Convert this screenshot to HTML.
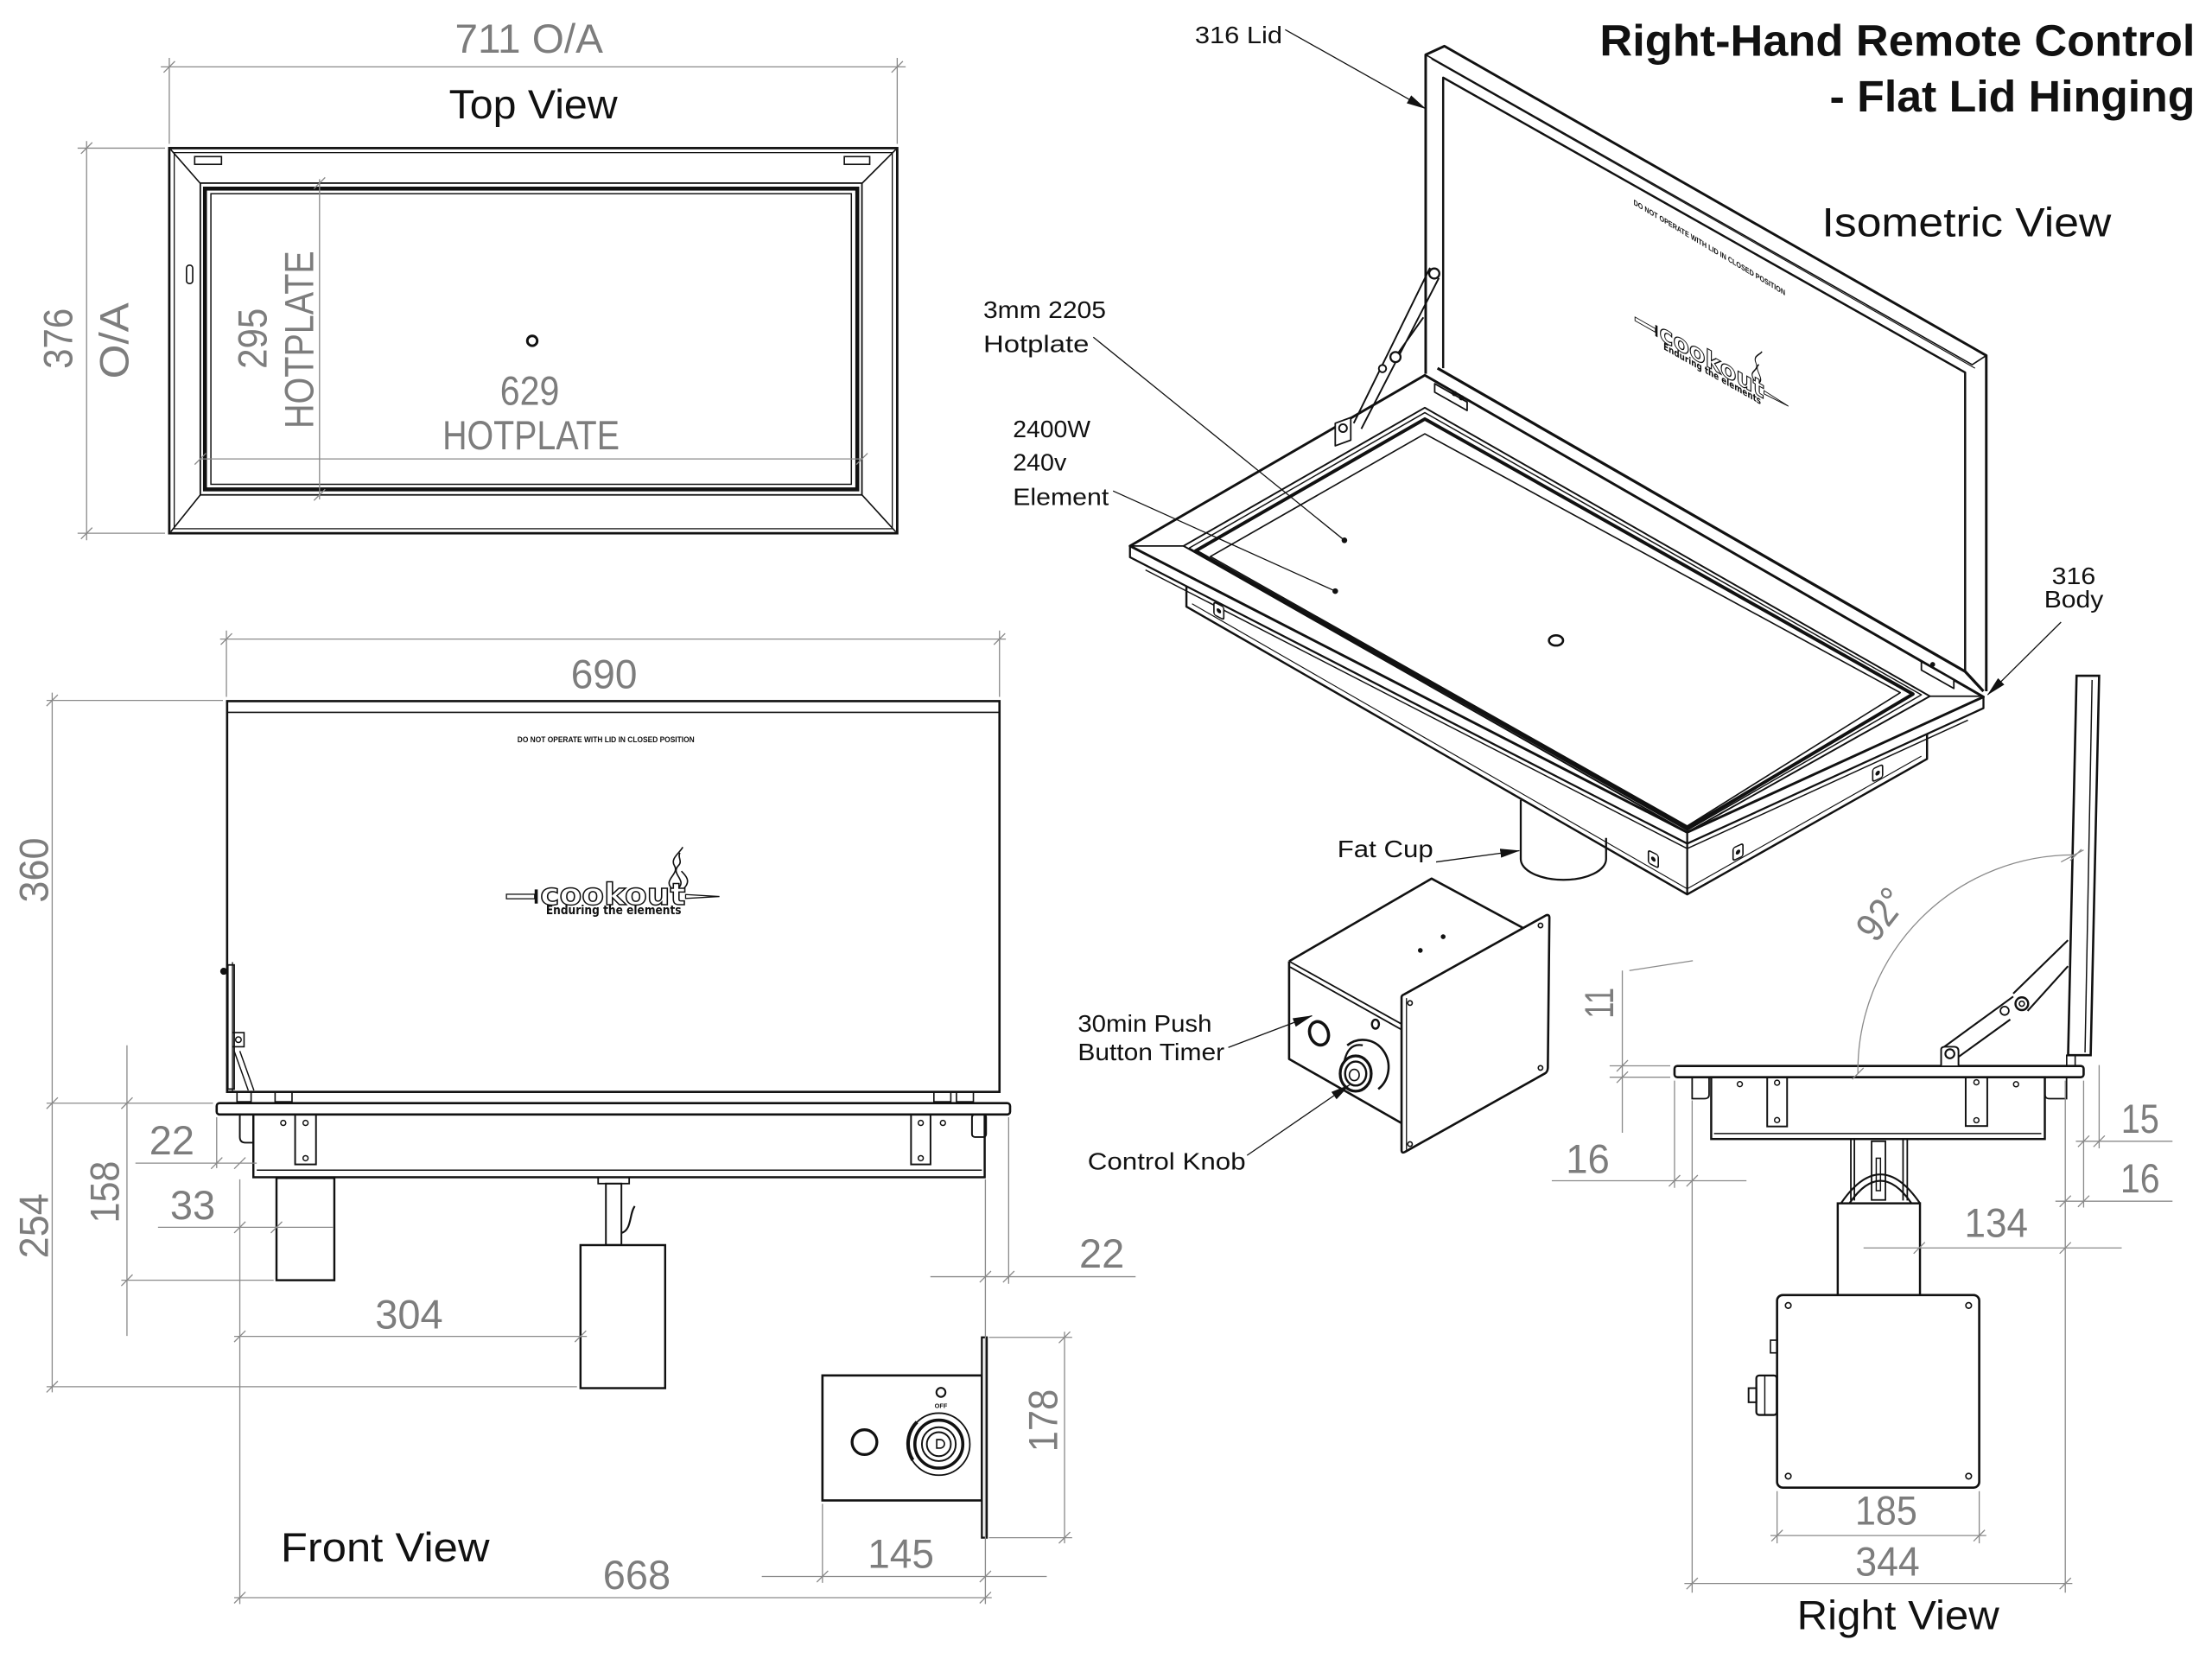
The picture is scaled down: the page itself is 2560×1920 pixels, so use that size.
<!DOCTYPE html>
<html><head><meta charset="utf-8"><title>Cookout Right-Hand Remote Control drawing</title>
<style>
html,body{margin:0;padding:0;background:#fff;overflow:hidden}
svg{display:block}
.d{font-family:"Liberation Sans",sans-serif;font-size:29px;fill:#7d7d7d;text-anchor:middle}
.v{font-family:"Liberation Sans",sans-serif;font-size:29px;fill:#111;text-anchor:middle}
.l{font-family:"Liberation Sans",sans-serif;font-size:17px;fill:#111}
</style></head><body>
<svg xmlns="http://www.w3.org/2000/svg" width="2560" height="1920" viewBox="0 0 1568 1176">
<defs>
<marker id="ar" markerWidth="14" markerHeight="8" refX="13.5" refY="4" orient="auto" markerUnits="userSpaceOnUse"><path d="M0,0.8 L14,4 L0,7.2 Z" fill="#111"/></marker>
</defs>
<rect width="1568" height="1176" fill="#fff"/>

<!-- ================= TOP VIEW ================= -->
<g fill="none" stroke="#111">
<rect x="120" y="105" width="516" height="273" stroke-width="1.7"/>
<rect x="123.5" y="108.2" width="509" height="266.6" stroke-width="0.8"/>
<rect x="142" y="129.8" width="469" height="221" stroke-width="1.1"/>
<rect x="145.3" y="133.7" width="462.4" height="213.2" stroke-width="2.8"/>
<rect x="149.5" y="137.3" width="454" height="206" stroke-width="0.9"/>
<path d="M121,106 L142,130 M635,106 L611,130 M121,377 L142,350.8 M635,377 L611,350.8" stroke-width="1"/>
<rect x="138" y="111" width="19" height="5.5" stroke-width="1"/>
<rect x="598.5" y="111" width="18" height="5.5" stroke-width="1"/>
<rect x="132.2" y="188" width="4.4" height="13" rx="2" stroke-width="1"/>
<circle cx="377.3" cy="241.6" r="3.5" stroke-width="1.8"/>
</g>
<g stroke="#8a8a8a" stroke-width="0.8" fill="none">
<path d="M114,47.4 H642 M120,41 V102 M636,41 V102 M116,51.4 L124,43.4 M632,51.4 L640,43.4"/>
<path d="M61.4,100 V383 M55,105 H117 M55,378 H117 M57.4,109 L65.4,101 M57.4,382 L65.4,374"/>
<path d="M226.5,127 V354 M222.5,133.8 L230.5,125.8 M222.5,354.8 L230.5,346.8"/>
<path d="M142,325.3 H611 M138,329.3 L146,321.3 M607,329.3 L615,321.3"/>
</g>
<text class="d" x="375" y="37.5" textLength="105" lengthAdjust="spacingAndGlyphs">711 O/A</text>
<text class="v" x="378" y="84" textLength="119.5" lengthAdjust="spacingAndGlyphs">Top View</text>
<text class="d" transform="translate(40.5,240) rotate(-90)" y="10.5" textLength="43" lengthAdjust="spacingAndGlyphs">376</text>
<text class="d" transform="translate(80.6,241.5) rotate(-90)" y="10.5" textLength="54" lengthAdjust="spacingAndGlyphs">O/A</text>
<text class="d" transform="translate(178.3,240) rotate(-90)" y="10.5" textLength="43" lengthAdjust="spacingAndGlyphs">295</text>
<text class="d" transform="translate(211.6,240.8) rotate(-90)" y="10.5" textLength="126" lengthAdjust="spacingAndGlyphs">HOTPLATE</text>
<text class="d" x="375.5" y="287" textLength="42" lengthAdjust="spacingAndGlyphs">629</text>
<text class="d" x="376.4" y="318.5" textLength="125.5" lengthAdjust="spacingAndGlyphs">HOTPLATE</text>

<!-- ================= FRONT VIEW ================= -->
<g fill="none" stroke="#111">
<rect x="161" y="497" width="547.5" height="277" stroke-width="1.6"/>
<path d="M161,505 H708.5" stroke-width="1"/>
<path d="M164.8,682 V774" stroke-width="0.8"/>
<rect x="161.5" y="684" width="4.5" height="88" stroke-width="1.1"/>
<circle cx="158.6" cy="688.5" r="2" fill="#111"/>
<path d="M165,732 h8 v10 h-8" stroke-width="1"/>
<circle cx="169" cy="737" r="2" stroke-width="0.9"/>
<path d="M166,745 L176,773 M170,745 L180,773" stroke-width="0.9"/>
<rect x="168" y="774" width="10" height="7" stroke-width="1"/>
<rect x="195" y="774" width="12" height="7" stroke-width="1"/>
<rect x="662" y="774" width="12" height="7" stroke-width="1"/>
<rect x="678" y="774" width="12" height="7" stroke-width="1"/>
<rect x="153.6" y="782" width="562.4" height="8" rx="2" stroke-width="1.6"/>
<rect x="179.6" y="790" width="518.4" height="44.5" stroke-width="1.5"/>
<path d="M182,829.5 H696" stroke-width="0.9"/>
<path d="M170,790 V806 Q170,810 174,810 H179.6" stroke-width="1.2"/>
<rect x="689" y="790" width="10" height="16" rx="2" stroke-width="1.2"/>
<rect x="209.2" y="790" width="14.8" height="35.4" stroke-width="1.2"/>
<rect x="645.8" y="790" width="13.8" height="35.4" stroke-width="1.2"/>
<g stroke-width="0.9"><circle cx="216.6" cy="796" r="1.8"/><circle cx="216.6" cy="821" r="1.8"/><circle cx="200.8" cy="796" r="1.8"/>
<circle cx="652.7" cy="796" r="1.8"/><circle cx="652.7" cy="821" r="1.8"/><circle cx="668.4" cy="796" r="1.8"/></g>
<rect x="196" y="835" width="41" height="72.5" stroke-width="1.5"/>
<rect x="424" y="834.5" width="22" height="4.5" stroke-width="1.1"/>
<rect x="429.5" y="839" width="11" height="43.5" stroke-width="1.2"/>
<path d="M440.5,874 C448,872 446,860 450,855" stroke-width="1.3"/>
<rect x="411.5" y="882.6" width="60" height="101.4" stroke-width="1.5"/>
<!-- front control box -->
<rect x="583" y="975" width="113" height="88.6" stroke-width="1.6"/>
<rect x="696" y="948" width="3.5" height="142" stroke-width="1.4" fill="#fff"/>
<circle cx="612.8" cy="1022.3" r="8.8" stroke-width="2"/>
<circle cx="665.5" cy="1023.7" r="22" stroke-width="1.1"/>
<path d="M647,1035 A22,22 0 0 1 650,1008" stroke-width="2.5"/>
<circle cx="665.5" cy="1023.7" r="17" stroke-width="2.2"/>
<circle cx="665.5" cy="1023.7" r="12" stroke-width="1.2"/>
<circle cx="665.5" cy="1023.7" r="8.5" stroke-width="1.2"/>
<path d="M664,1020.5 h2.5 a3,3 0 0 1 0,6 h-2.5 z" stroke-width="1"/>
<circle cx="667" cy="987" r="3.2" stroke-width="1.3"/>
</g>
<text x="667" y="998" font-family="Liberation Sans,sans-serif" font-size="4.5" font-weight="bold" text-anchor="middle" fill="#111">OFF</text>
<text x="429.5" y="526" font-family="Liberation Sans,sans-serif" font-size="5.5" font-weight="bold" text-anchor="middle" fill="#111" textLength="125.5" lengthAdjust="spacingAndGlyphs">DO NOT OPERATE WITH LID IN CLOSED POSITION</text>
<!-- front logo -->
<g transform="translate(359,635.5)">
<rect x="0" y="-1.6" width="20" height="3.2" fill="#fff" stroke="#111" stroke-width="0.8"/>
<rect x="20" y="-5" width="2.2" height="10" fill="#111"/>
<text x="24" y="5.8" font-family="DejaVu Sans,sans-serif" font-weight="bold" font-size="21" fill="#fff" stroke="#111" stroke-width="0.9" textLength="103" lengthAdjust="spacingAndGlyphs">cookout</text>
<path d="M127,-1.4 L151,0 L127,1.4 Z" fill="#fff" stroke="#111" stroke-width="0.8"/>
<path d="M117,-6 C111,-12 123,-16 119,-22 C116,-27 123,-31 125,-35 M122,-6 C128,-12 116,-16 122,-22 C125,-25 121,-28 123,-31 M126,-6 C131,-11 127,-15 124,-18" fill="none" stroke="#111" stroke-width="1"/>
<text x="28" y="12.5" font-family="DejaVu Sans,sans-serif" font-weight="bold" font-size="8.5" fill="#111" textLength="96" lengthAdjust="spacingAndGlyphs">Enduring the elements</text>
</g>
<!-- front dims -->
<g stroke="#8a8a8a" stroke-width="0.8" fill="none">
<path d="M156,453 H713 M160.5,447 V494 M708.5,447 V494 M156.5,457 L164.5,449 M704.5,457 L712.5,449"/>
<path d="M37,491 V987 M33,500.5 L41,492.5 M33,786 L41,778 M33,987 L41,979"/>
<path d="M33,496.5 H158 M33,782 H151 M33,983 H409"/>
<path d="M90,741 V947 M86,786 L94,778 M86,911.5 L94,903.5 M86,907.5 H194"/>
<path d="M96,824.5 H182 M153.6,792 V828 M149.6,828.5 L157.6,820.5 M166,828.5 L174,820.5"/>
<path d="M112,870 H236 M166,874 L174,866 M192,874 L200,866"/>
<path d="M170,836 V1137 M698.5,836 V1137 M715,792 V910"/>
<path d="M166,947.3 H416 M166,951.3 L174,943.3 M407.5,951.3 L415.5,943.3"/>
<path d="M166,1132.5 H703 M166,1136.5 L174,1128.5 M694.5,1136.5 L702.5,1128.5"/>
<path d="M659.5,905 H805 M694.5,909 L702.5,901 M711,909 L719,901"/>
<path d="M754.6,944 V1094 M750.6,952 L758.6,944 M750.6,1094 L758.6,1086 M701,948 H760 M701,1090 H760"/>
<path d="M540,1117.5 H742 M579,1121.5 L587,1113.5 M694.5,1121.5 L702.5,1113.5 M583,1066 V1122"/>
</g>
<text class="d" x="428.2" y="487.9" textLength="47" lengthAdjust="spacingAndGlyphs">690</text>
<text class="d" transform="translate(23.4,616.8) rotate(-90)" y="10.5" textLength="46" lengthAdjust="spacingAndGlyphs">360</text>
<text class="d" transform="translate(23.4,869) rotate(-90)" y="10.5" textLength="46" lengthAdjust="spacingAndGlyphs">254</text>
<text class="d" transform="translate(73.8,845) rotate(-90)" y="10.5" textLength="44" lengthAdjust="spacingAndGlyphs">158</text>
<text class="d" x="121.8" y="818.4" textLength="32" lengthAdjust="spacingAndGlyphs">22</text>
<text class="d" x="136.6" y="864.3" textLength="32" lengthAdjust="spacingAndGlyphs">33</text>
<text class="d" x="290" y="941.7" textLength="48" lengthAdjust="spacingAndGlyphs">304</text>
<text class="d" x="451.4" y="1126.4" textLength="48" lengthAdjust="spacingAndGlyphs">668</text>
<text class="v" x="273" y="1106.7" textLength="148" lengthAdjust="spacingAndGlyphs">Front View</text>
<text class="d" x="638.6" y="1111.4" textLength="47" lengthAdjust="spacingAndGlyphs">145</text>
<text class="d" transform="translate(739,1007) rotate(-90)" y="10.5" textLength="44.5" lengthAdjust="spacingAndGlyphs">178</text>
<text class="d" x="781" y="898.5" textLength="32" lengthAdjust="spacingAndGlyphs">22</text>

<!-- ================= RIGHT VIEW ================= -->
<g fill="none" stroke="#111">
<polygon points="1472,479 1488,479 1482,748 1466,748" stroke-width="1.6" fill="#fff"/>
<path d="M1483,482 L1478,746" stroke-width="0.9"/>
<rect x="1465" y="748" width="6" height="7.5" stroke-width="1"/>
<rect x="1187" y="755.6" width="290" height="8" rx="2" stroke-width="1.6" fill="#fff"/>
<rect x="1213" y="763.6" width="236.5" height="43.8" stroke-width="1.5"/>
<path d="M1215,803.5 H1447" stroke-width="0.9"/>
<path d="M1211.5,764 V776 Q1211.5,778.8 1208,778.8 H1199.5 V764" stroke-width="1.1"/>
<path d="M1449.6,764 V776 Q1449.6,778.8 1453,778.8 H1464.9 V764" stroke-width="1.1"/>
<rect x="1252.7" y="763.6" width="14.1" height="34.9" stroke-width="1.2"/>
<rect x="1393.4" y="763.6" width="15.3" height="34.6" stroke-width="1.2"/>
<g stroke-width="0.9"><circle cx="1259.7" cy="767.5" r="1.8"/><circle cx="1259.7" cy="794" r="1.8"/><circle cx="1401" cy="767.2" r="1.8"/><circle cx="1401" cy="794.1" r="1.8"/><circle cx="1233.3" cy="768.5" r="1.8"/><circle cx="1429.1" cy="768.6" r="1.8"/></g>
<!-- hinge arm -->
<path d="M1465.9,666.5 L1427.1,704.3 M1465.9,684.9 L1437.3,716.6 M1427.1,706.4 L1378.1,742.1 M1425,722.7 L1388.3,749.2" stroke-width="1.3"/>
<circle cx="1433.2" cy="711.5" r="4.5" stroke-width="1.5" fill="#fff"/>
<circle cx="1433.2" cy="711.5" r="1.8" stroke-width="1"/>
<circle cx="1421" cy="716.5" r="3" stroke-width="1.1" fill="#fff"/>
<path d="M1376,755.3 V744 Q1376,742 1379,742 H1385 Q1388.3,742 1388.3,745 V755.3" stroke-width="1.2" fill="#fff"/>
<circle cx="1382.2" cy="747" r="3.2" stroke-width="1.3"/>
<!-- pole -->
<path d="M1312,807.6 V851 M1314.5,807.6 V851 M1349,807.6 V851 M1352,807.6 V851" stroke-width="1.1"/>
<rect x="1326.7" y="809" width="9.8" height="41.6" stroke-width="1.1"/>
<rect x="1330" y="821" width="3" height="23" stroke-width="0.9"/>
<path d="M1305,853 Q1333,812 1361,853 M1311,853 Q1333,821 1355,853" stroke-width="1.3"/>
<rect x="1302.7" y="853" width="58.3" height="65" stroke-width="1.5" fill="#fff"/>
<!-- control box -->
<rect x="1259.7" y="918" width="143.3" height="136.5" rx="4" stroke-width="1.6"/>
<g stroke-width="1"><circle cx="1267.6" cy="925.4" r="2"/><circle cx="1395.5" cy="925.4" r="2"/><circle cx="1267.6" cy="1046.4" r="2"/><circle cx="1395.5" cy="1046.4" r="2"/></g>
<rect x="1255" y="950" width="4.5" height="9" stroke-width="1"/>
<rect x="1245" y="975" width="14.5" height="28" rx="2" stroke-width="1.4"/>
<rect x="1239.5" y="984" width="5.5" height="10" stroke-width="1.2"/>
<path d="M1251,975 V1003" stroke-width="0.9"/>
</g>
<g stroke="#8a8a8a" stroke-width="0.8" fill="none">
<path d="M1317,761 A153,153 0 0 1 1471.5,606 M1313,765 L1321,757 M1467.5,610 L1475.5,602 M1461,611 L1477,602.5"/>
<path d="M1150,688 V803 M1146,759.5 L1154,751.5 M1146,767.6 L1154,759.6 M1141,755.5 H1184 M1141,763.6 H1184 M1155,688 L1200,681"/>
<path d="M1100,837 H1238 M1183,841 L1191,833 M1195.5,841 L1203.5,833 M1187,766 V842 M1199.5,780 V1129"/>
<path d="M1471.5,809 H1540 M1473,813 L1481,805 M1484,813 L1492,805 M1488,755 V814 M1477,766 V856"/>
<path d="M1457,851.5 H1540 M1460,855.5 L1468,847.5 M1473,855.5 L1481,847.5 M1464,766 V1129"/>
<path d="M1321,884.6 H1504 M1356.5,888.6 L1364.5,880.6 M1460,888.6 L1468,880.6"/>
<path d="M1255,1088.5 H1408 M1255.7,1092.5 L1263.7,1084.5 M1399,1092.5 L1407,1084.5 M1259.7,1057 V1094 M1403,1057 V1094"/>
<path d="M1194,1122.5 H1469 M1195.5,1126.5 L1203.5,1118.5 M1460,1126.5 L1468,1118.5"/>
</g>
<text class="d" transform="translate(1133,711) rotate(-90)" y="10.5" textLength="22" lengthAdjust="spacingAndGlyphs">11</text>
<text class="d" x="1125.5" y="831.5" textLength="31" lengthAdjust="spacingAndGlyphs">16</text>
<text class="d" x="1517" y="803" textLength="27" lengthAdjust="spacingAndGlyphs">15</text>
<text class="d" x="1517" y="845.2" textLength="28" lengthAdjust="spacingAndGlyphs">16</text>
<text class="d" x="1415" y="876.9" textLength="45" lengthAdjust="spacingAndGlyphs">134</text>
<text class="d" x="1337" y="1080.8" textLength="44" lengthAdjust="spacingAndGlyphs">185</text>
<text class="d" x="1338" y="1117" textLength="45.6" lengthAdjust="spacingAndGlyphs">344</text>
<text class="d" transform="translate(1333.5,648) rotate(-52)" y="10" textLength="38" lengthAdjust="spacingAndGlyphs">92°</text>
<text class="v" x="1345.5" y="1155" textLength="143.4" lengthAdjust="spacingAndGlyphs">Right View</text>

<!-- ================= ISOMETRIC VIEW ================= -->
<g fill="none" stroke="#111" stroke-linejoin="round">
<!-- lid -->
<path d="M1010.6,265 V38.8 L1023.9,32.7 L1408,252 V490" stroke-width="1.8"/>
<path d="M1010.6,38.8 L1398,258.5 L1408,252" stroke-width="1"/>
<path d="M1014.7,41.8 L1400,261" stroke-width="0.7"/>
<path d="M1023,261 V55 L1393,264 V476" stroke-width="1.5"/>
<path d="M1019,261 L1393,476 L1406,490" stroke-width="2"/>
<!-- body top flange -->
<path d="M801,387 L1010,266 L1406,494 L1196,590 Z" stroke-width="1.8"/>
<path d="M801,387 H839 M1368,493.5 H1406" stroke-width="1.1"/>
<path d="M839,387 L1010,289 L1368,493.5 L1196,590 Z" stroke-width="1.2"/>
<path d="M843,388.5 L1010,292.5 L1362,492.5 L1196,588.5 Z" stroke-width="0.9"/>
<path d="M847.5,390.5 L1010,297 L1356,492 L1196,587 Z" stroke-width="2.4"/>
<path d="M858,394.5 L1010,307.5 L1347,491 L1196,585.5 Z" stroke-width="1"/>
<!-- flange faces & body -->
<path d="M801,387 V395 L1196,598 L1406,502 V494" stroke-width="1.4"/>
<path d="M812,404 L1196,601.5 L1395,510.5" stroke-width="0.9"/>
<path d="M1196,590 V634" stroke-width="1.4"/>
<path d="M841,415.5 V430 L1196,634 L1366,538 V520.5" stroke-width="1.5"/>
<path d="M845,428 L1196,630 L1362,536" stroke-width="0.7"/>
<!-- body tabs -->
<g stroke-width="1" fill="#fff">
<g transform="matrix(1,0.514,0,1,864,433)"><rect x="-3.5" y="-4.5" width="7" height="9" rx="1.5"/><circle r="1.1" fill="#111"/></g>
<g transform="matrix(1,0.514,0,1,1172,609)"><rect x="-3.5" y="-4.5" width="7" height="9" rx="1.5"/><circle r="1.1" fill="#111"/></g>
<g transform="matrix(1,-0.457,0,1,1232,604)"><rect x="-3.5" y="-4.5" width="7" height="9" rx="1.5"/><circle r="1.1" fill="#111"/></g>
<g transform="matrix(1,-0.457,0,1,1331,548)"><rect x="-3.5" y="-4.5" width="7" height="9" rx="1.5"/><circle r="1.1" fill="#111"/></g>
</g>
<!-- lid hinge brackets -->
<path d="M1017,272 L1040,285 V291 L1017,278 Z" stroke-width="1.1" fill="#fff"/>
<circle cx="1031" cy="279" r="1.6" fill="#111" stroke-width="0.5"/>
<circle cx="1036" cy="282" r="1.6" fill="#111" stroke-width="0.5"/>
<path d="M1362,469 L1385,482 V488 L1362,475 Z" stroke-width="1.1" fill="#fff"/>
<circle cx="1370" cy="471" r="1.5" fill="#111" stroke-width="0.5"/>
<!-- hinge arm -->
<path d="M1013.7,189.8 L959.6,300 M1020,197 L965,304 M1009,225 L987,256" stroke-width="1.2"/>
<circle cx="1016.7" cy="193.9" r="3.6" stroke-width="1.4" fill="#fff"/>
<circle cx="989.2" cy="253.1" r="3.6" stroke-width="1.4" fill="#fff"/>
<circle cx="980" cy="261.3" r="2.6" stroke-width="1.2" fill="#fff"/>
<path d="M946.5,300 L957.5,296 V312 L946.5,316 Z" stroke-width="1.1" fill="#fff"/>
<circle cx="952" cy="303.5" r="2.8" stroke-width="1.2"/>
<!-- hotplate hole -->
<ellipse cx="1103" cy="454" rx="5" ry="3.6" stroke-width="1.6"/>
<!-- fat cup -->
<path d="M1078,567 V609 A30.25,14.7 0 0 0 1138.5,609 V594" stroke-width="1.4"/>
</g>
<circle cx="953" cy="383" r="2" fill="#111"/>
<circle cx="946.5" cy="419" r="2" fill="#111"/>
<!-- lid warning text and logo -->
<text transform="matrix(0.853,0.512,0,1,1158,145)" x="0" y="0" font-family="Liberation Sans,sans-serif" font-size="5.5" font-weight="bold" fill="#111" textLength="126" lengthAdjust="spacingAndGlyphs">DO NOT OPERATE WITH LID IN CLOSED POSITION</text>
<g transform="matrix(0.72,0.41,0,0.8,1159,226)">
<rect x="0" y="-1.6" width="20" height="3.2" fill="#fff" stroke="#111" stroke-width="0.8"/>
<rect x="20" y="-5" width="2.2" height="10" fill="#111"/>
<text x="24" y="5.8" font-family="DejaVu Sans,sans-serif" font-weight="bold" font-size="21" fill="#fff" stroke="#111" stroke-width="0.9" textLength="103" lengthAdjust="spacingAndGlyphs">cookout</text>
<path d="M127,-1.4 L151,0 L127,1.4 Z" fill="#fff" stroke="#111" stroke-width="0.8"/>
<path d="M117,-6 C111,-12 123,-16 119,-22 C116,-27 123,-31 125,-35 M122,-6 C128,-12 116,-16 122,-22" fill="none" stroke="#111" stroke-width="1"/>
<text x="28" y="12.5" font-family="DejaVu Sans,sans-serif" font-weight="bold" font-size="8.5" fill="#111" textLength="96" lengthAdjust="spacingAndGlyphs">Enduring the elements</text>
</g>

<!-- iso control box -->
<g fill="none" stroke="#111" stroke-linejoin="round">
<path d="M913.8,681.4 L1014.8,622.8 L1080,658" stroke-width="1.6"/>
<path d="M913.8,681.4 L995.5,727 M914.5,685.5 L995.5,731" stroke-width="1.1"/>
<path d="M913.8,681.4 V750.7 L995,797" stroke-width="1.6"/>
<path d="M995.5,704.8 L1096,648.8 Q1098.5,648 1098.3,651 L1097.2,757 Q1097,760 1095,761 L996,816.5 Q993.5,818 993.5,815 L993.5,707 Q993.5,705.5 995.5,704.8 Z" fill="#fff" stroke-width="1.6"/>
<path d="M997,707.5 V815" stroke-width="0.8"/>
<g stroke-width="1"><circle cx="999.5" cy="711" r="1.6"/><circle cx="1092" cy="656" r="1.6"/><circle cx="1092" cy="757" r="1.6"/><circle cx="999.5" cy="811" r="1.6"/></g>
<circle cx="1023" cy="664" r="1.7" fill="#111" stroke="none"/>
<circle cx="1006.8" cy="673.7" r="1.7" fill="#111" stroke="none"/>
<ellipse cx="935" cy="732.5" rx="6.5" ry="8.5" transform="rotate(-20 935 732.5)" stroke-width="2.2"/>
<ellipse cx="961" cy="761" rx="11" ry="12.5" stroke-width="2"/>
<ellipse cx="961" cy="761" rx="7.5" ry="8.5" stroke-width="1.5"/>
<ellipse cx="960" cy="762" rx="3.5" ry="4" stroke-width="1"/>
<path d="M955,741 A17,18 0 0 1 977,772" stroke-width="1.6"/>
<path d="M953,752 Q956,739 966,741" stroke-width="1.4"/>
<ellipse cx="975" cy="726" rx="2.5" ry="3.2" stroke-width="1.5"/>
</g>

<!-- leaders -->
<g stroke="#111" stroke-width="0.8" fill="none">
<path d="M911,21 L1010.5,77" marker-end="url(#ar)"/>
<path d="M775,239 L953,383"/>
<path d="M789,348 L946.5,419"/>
<path d="M1461,441 L1409,492.5" marker-end="url(#ar)"/>
<path d="M1018,611 L1077,603" marker-end="url(#ar)"/>
<path d="M870.7,742.5 L930,720" marker-end="url(#ar)"/>
<path d="M884,819 L956.7,769" marker-end="url(#ar)"/>
</g>
<text class="l" x="847" y="30.5" textLength="62" lengthAdjust="spacingAndGlyphs">316 Lid</text>
<text class="l" x="697" y="225.5" textLength="87" lengthAdjust="spacingAndGlyphs">3mm 2205</text>
<text class="l" x="697" y="249.5" textLength="75" lengthAdjust="spacingAndGlyphs">Hotplate</text>
<text class="l" x="718" y="310" textLength="55" lengthAdjust="spacingAndGlyphs">2400W</text>
<text class="l" x="718" y="333.5" textLength="38" lengthAdjust="spacingAndGlyphs">240v</text>
<text class="l" x="718" y="358" textLength="68" lengthAdjust="spacingAndGlyphs">Element</text>
<text class="l" x="1470" y="414" text-anchor="middle" textLength="31" lengthAdjust="spacingAndGlyphs">316</text>
<text class="l" x="1470" y="430.5" text-anchor="middle" textLength="42" lengthAdjust="spacingAndGlyphs">Body</text>
<text class="l" x="948" y="607.5" textLength="68" lengthAdjust="spacingAndGlyphs">Fat Cup</text>
<text class="l" x="764" y="731.3" textLength="95" lengthAdjust="spacingAndGlyphs">30min Push</text>
<text class="l" x="764" y="751.7" textLength="104" lengthAdjust="spacingAndGlyphs">Button Timer</text>
<text class="l" x="771" y="829" textLength="112" lengthAdjust="spacingAndGlyphs">Control Knob</text>

<!-- titles -->
<text class="v" x="1394" y="167.5" textLength="205" lengthAdjust="spacingAndGlyphs">Isometric View</text>
<text x="1556" y="39.5" text-anchor="end" font-family="Liberation Sans,sans-serif" font-weight="bold" font-size="31" fill="#111" textLength="422" lengthAdjust="spacingAndGlyphs">Right-Hand Remote Control</text>
<text x="1556" y="79" text-anchor="end" font-family="Liberation Sans,sans-serif" font-weight="bold" font-size="31" fill="#111" textLength="259" lengthAdjust="spacingAndGlyphs">- Flat Lid Hinging</text>
</svg>
</body></html>
